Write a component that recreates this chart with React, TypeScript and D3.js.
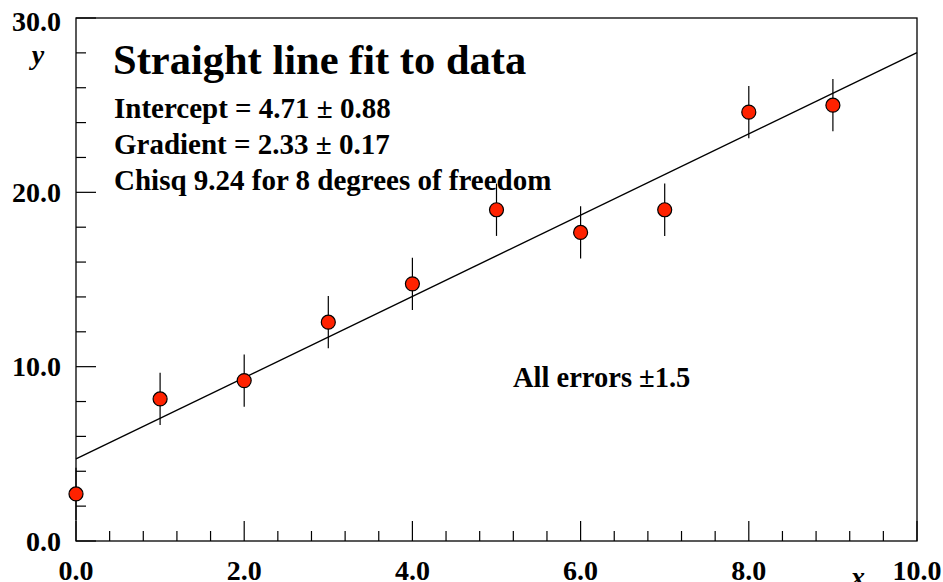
import React, { useEffect, useRef } from 'react';
import * as d3 from 'd3';

// measured points, all errors +-1.5
const xs = [0, 1, 2, 3, 4, 5, 6, 7, 8, 9];
const ys = [2.7, 8.15, 9.2, 12.55, 14.75, 19.0, 17.7, 19.0, 24.6, 25.0];
const err = 1.5;
const intercept = 4.71;
const gradient = 2.33;
const xTicks = [0, 2, 4, 6, 8, 10];
const yTicks = [0, 10, 20, 30];
const statLines = [
  'Intercept = 4.71 \u00b1 0.88',
  'Gradient = 2.33 \u00b1 0.17',
  'Chisq 9.24 for 8 degrees of freedom',
];

const W = 943;
const H = 582;
const m = { left: 76, right: 26, top: 18, bottom: 41 };
const font = '"Liberation Serif", "Times New Roman", serif';

const App = () => {
  const ref = useRef<SVGGElement>(null);

  useEffect(() => {
    const g = d3.select(ref.current);
    g.selectAll('*').remove();

    const x = d3.scaleLinear().domain([0, 10]).range([m.left, W - m.right]);
    const y = d3.scaleLinear().domain([0, 30]).range([H - m.bottom, m.top]);

    // frame
    g.append('rect')
      .attr('x', x(0)).attr('y', y(30))
      .attr('width', x(10) - x(0)).attr('height', y(0) - y(30))
      .attr('fill', 'none').attr('stroke', '#000').attr('stroke-width', 1.3);

    // x ticks, minor every 0.4
    const xMinor = d3.range(0, 10.001, 0.4);
    g.selectAll('line.xt').data(xMinor).enter().append('line')
      .attr('x1', d => x(d)).attr('x2', d => x(d))
      .attr('y1', y(0))
      .attr('y2', d => y(0) - (Math.abs(d / 2 - Math.round(d / 2)) < 1e-6 ? 20 : 10))
      .attr('stroke', '#000').attr('stroke-width', 1.2);

    // y ticks, minor every 2
    const yMinor = d3.range(0, 30.001, 2);
    g.selectAll('line.yt').data(yMinor).enter().append('line')
      .attr('y1', d => y(d)).attr('y2', d => y(d))
      .attr('x1', x(0))
      .attr('x2', d => x(0) + (d % 10 === 0 ? 20 : 10))
      .attr('stroke', '#000').attr('stroke-width', 1.2);

    g.selectAll('text.xl').data(xTicks).enter().append('text')
      .attr('x', d => x(d)).attr('y', 580)
      .attr('text-anchor', 'middle')
      .style('font-family', font).style('font-weight', 'bold').style('font-size', '28px')
      .text(d => d3.format('.1f')(d));

    g.selectAll('text.yl').data(yTicks).enter().append('text')
      .attr('x', 61).attr('y', d => y(d) + (d === 30 ? 3 : 0))
      .attr('dy', '0.35em')
      .attr('text-anchor', 'end')
      .style('font-family', font).style('font-weight', 'bold').style('font-size', '28px')
      .text(d => d3.format('.1f')(d));

    g.append('text').attr('x', 38).attr('y', 64).attr('text-anchor', 'middle')
      .style('font-family', font).style('font-style', 'italic').style('font-weight', 'bold')
      .style('font-size', '28px').text('y');
    g.append('text').attr('x', 858).attr('y', 586).attr('text-anchor', 'middle')
      .style('font-family', font).style('font-style', 'italic').style('font-weight', 'bold')
      .style('font-size', '28px').text('x');

    // fit line
    g.append('line')
      .attr('x1', x(0)).attr('y1', y(intercept))
      .attr('x2', x(10)).attr('y2', y(intercept + gradient * 10))
      .attr('stroke', '#000').attr('stroke-width', 1.4);

    const pts = xs.map((v, i) => ({ x: v, y: ys[i] }));

    g.selectAll('line.eb').data(pts).enter().append('line')
      .attr('x1', d => x(d.x)).attr('x2', d => x(d.x))
      .attr('y1', d => y(d.y - err)).attr('y2', d => y(d.y + err))
      .attr('stroke', '#000').attr('stroke-width', 1.2);

    g.selectAll('circle.pt').data(pts).enter().append('circle')
      .attr('cx', d => x(d.x)).attr('cy', d => y(d.y)).attr('r', 7)
      .attr('fill', '#ff2200').attr('stroke', '#000').attr('stroke-width', 1.2);

    // text block
    g.append('text').attr('x', 113).attr('y', 73.5)
      .style('font-family', font).style('font-weight', 'bold').style('font-size', '42.5px')
      .text('Straight line fit to data');

    g.selectAll('text.st').data(statLines).enter().append('text')
      .attr('x', 114).attr('y', (d, i) => 117.5 + i * 36.4)
      .style('font-family', font).style('font-weight', 'bold').style('font-size', '29px')
      .text(d => d);

    g.append('text').attr('x', 513).attr('y', 387)
      .style('font-family', font).style('font-weight', 'bold').style('font-size', '28.5px')
      .text('All errors \u00b11.5');
  }, []);

  return (
    <svg width={W} height={H} style={{ position: 'absolute', left: 0, top: 0, background: '#fff' }}>
      <g ref={ref} />
    </svg>
  );
};

export default App;
